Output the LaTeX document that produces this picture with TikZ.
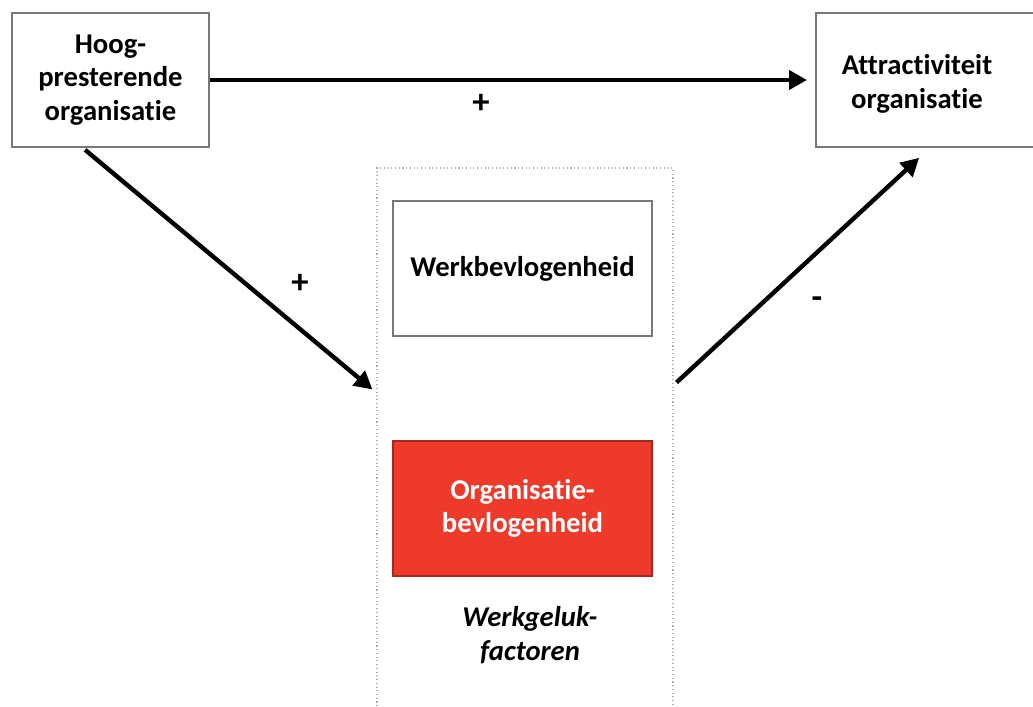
\documentclass[tikz,border=0pt]{standalone}
\usepackage{fontspec}
\setmainfont[Ligatures={NoCommon}]{Carlito}
\usetikzlibrary{arrows.meta,calc}

\definecolor{kader}{RGB}{120,120,120}
\definecolor{rood}{RGB}{237,58,42}

\tikzset{
  blok/.style={draw=kader, line width=1.3pt, inner sep=0pt, align=center,
    font=\fontsize{21.5}{25}\selectfont\bfseries},
  pijl/.style={line width=3.3pt, -{Triangle[length=13.5pt,width=14pt]}},
  teken/.style={font=\fontsize{26}{28}\selectfont\bfseries}
}

\begin{document}
\begin{tikzpicture}[x=0.75pt,y=0.75pt,yscale=-1,xscale=1]
\useasboundingbox (0,0) rectangle (1033,707);

%Shape: Rectangle [Hoog-presterende organisatie]
\node [blok, minimum width=197*0.75pt, minimum height=134*0.75pt] (hoog) at (110.5,80)
  {Hoog-\\presterende\\organisatie};
%Shape: Rectangle [Attractiviteit organisatie]
\node [blok, minimum width=229*0.75pt, minimum height=134*0.75pt] (attr) at (930.5,80) {};
% Text Node
\node [blok, draw=none] (attrtxt) at (917,84) {Attractiviteit\\organisatie};

%Shape: Rectangle [Werkgeluk-factoren, dotted]
\node [draw=kader!60, dotted, line width=0.8pt, minimum width=296*0.75pt, minimum height=562*0.75pt] (fac) at (525,449) {};
%Shape: Rectangle [Werkbevlogenheid]
\node [blok, minimum width=259*0.75pt, minimum height=135*0.75pt] (werk) at (522.5,268.5) {Werkbevlogenheid};
%Shape: Rectangle [Organisatiebevlogenheid]
\node [blok, draw=rood!70!black, fill=rood, text=white, minimum width=259*0.75pt, minimum height=135*0.75pt] (org) at (522.5,508.5)
  {Organisatie-\\bevlogenheid};
% Text Node
\node [blok, draw=none, font=\fontsize{21.5}{25}\selectfont\bfseries\itshape] (wgf) at (530,635) {Werkgeluk-\\factoren};

% Arrows
\coordinate (inL) at ($(fac.north west)+(-4,222)$);
\coordinate (uitR) at ($(fac.north east)+(3,215)$);
\draw [pijl, shorten >=6pt] (hoog.east) -- (attr.west);
\draw [pijl] ($(hoog.south west)+(74,2)$) -- (inL);
\draw [pijl] (uitR) -- ($(attr.south west)+(104,10)$);

% Text Node
\node [teken] (plus1) at (481,104) {+};
\node [teken] (plus2) at (300,284) {+};
\node [teken] (min1) at (817,303) {-};

\end{tikzpicture}
\end{document}
